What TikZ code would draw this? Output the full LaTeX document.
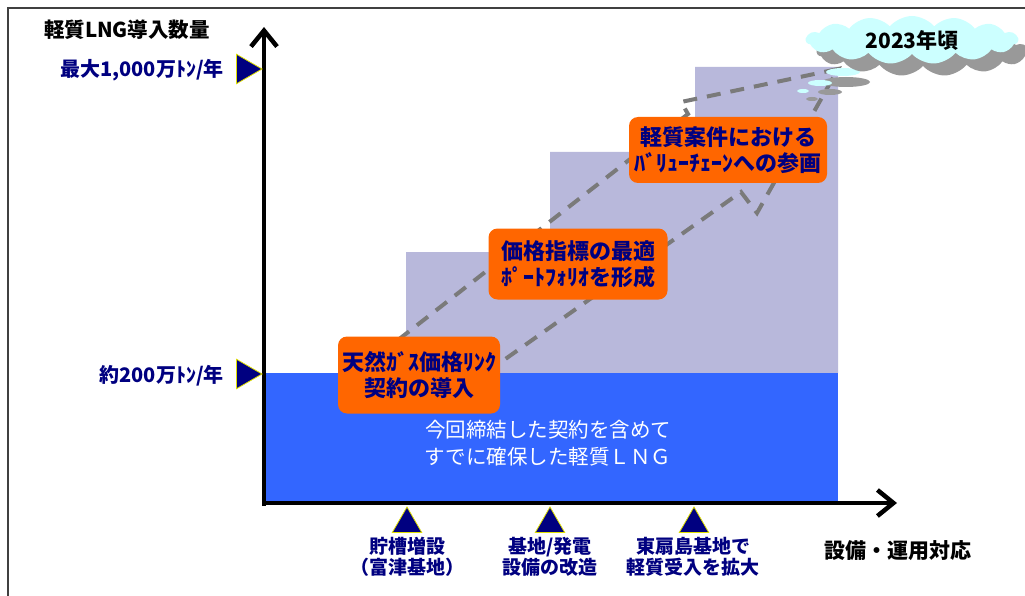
\documentclass[tikz,border=0pt]{standalone}
\usepackage{fontspec}
\setmainfont{Noto Sans CJK JP}
\usetikzlibrary{arrows.meta,shapes.geometric,shapes.symbols,shadows}
\definecolor{navytext}{HTML}{000080}
\definecolor{lavender}{HTML}{B8B8DB}
\definecolor{lngblue}{HTML}{3366FF}
\definecolor{boxorange}{HTML}{FF6600}
\definecolor{markeryellow}{HTML}{E0E000}
\definecolor{dashgray}{HTML}{7A7A7A}
\definecolor{cloudcyan}{HTML}{CCFFFF}
\definecolor{shadowgray}{HTML}{999999}
\begin{document}
\begin{tikzpicture}[x=1pt,y=-1pt,
	every node/.style={inner sep=0pt,text=navytext,align=center},
	orangebox/.style={fill=boxorange,rounded corners=9pt,font=\fontsize{22}{26}\selectfont\bfseries},
	marker/.style={regular polygon,regular polygon sides=3,fill=navytext,draw=markeryellow,line width=0.8pt,minimum size=34pt},
	axislabel/.style={font=\fontsize{20}{22}\selectfont\bfseries},
	baselabel/.style={font=\fontsize{19}{21}\selectfont\bfseries},
	axis/.style={line width=4.5pt,-{Straight Barb[length=16pt,width=26pt]}},
	dasharrow/.style={draw=dashgray,line width=4pt,dash pattern=on 14pt off 10pt}]
\useasboundingbox (0,0) rectangle (1025,596);
\draw[black!75,line width=1.2pt] (1025,8) -- (8,8) -- (8,596);
\fill[lavender] (406,373) -- (406,252) -- (550,252) -- (550,152) -- (695,152)
	-- (695,67) -- (838,67) -- (838,373) -- cycle;
\fill[lngblue] (264,373) rectangle (838,503);
\draw[dasharrow] (398,340) -- (688,114) -- (681,102) -- (838,69) -- (757,213)
	-- (741,192) -- (480,377) -- cycle;
\fill[shadowgray] (846,82) ellipse (24pt and 5pt) (830,92) ellipse (12pt and 3pt)
	(812,99) ellipse (6pt and 2pt);
\fill[cloudcyan] (843,72) ellipse (17pt and 4pt) (820,83) ellipse (12pt and 3pt)
	(803,91) ellipse (6pt and 2pt);
\node[cloud,cloud puffs=15,cloud puff arc=100,aspect=4,minimum width=212pt,minimum height=48pt,
	fill=cloudcyan,drop shadow={shadow xshift=11pt,shadow yshift=-12pt,fill=shadowgray,opacity=1},
	text=black,font=\fontsize{21}{24}\selectfont\bfseries] (era) at (912,40) {2023年頃};
\node[text=white,font=\fontsize{20.5}{27}\selectfont] (secured) at (548,443)
	{今回締結した契約を含めて\\すでに確保した軽質ＬＮＧ};
\node[orangebox,minimum width=162pt,minimum height=77pt] (link) at (419,375)
	{天然ｶﾞｽ価格ﾘﾝｸ\\契約の導入};
\node[orangebox,minimum width=179pt,minimum height=71pt] (portfolio) at (578,264)
	{価格指標の最適\\ﾎﾟｰﾄﾌｫﾘｵを形成};
\node[orangebox,minimum width=198pt,minimum height=66pt] (value) at (728,150)
	{軽質案件における\\ﾊﾞﾘｭｰﾁｪｰﾝへの参画};
\coordinate (ybot) at (264,506);
\coordinate (ytop) at (264,27);
\coordinate (xbot) at (262,503);
\coordinate (xend) at (897,503);
\draw[axis] (ybot) -- (ytop);
\draw[axis] (xbot) -- (xend);
\node[text=black,font=\fontsize{20.5}{22}\selectfont\bfseries] (ytitle) at (127,30) {軽質LNG導入数量};
\node[text=black,font=\fontsize{21}{22}\selectfont\bfseries] (xtitle) at (898,551) {設備・運用対応};
\node[marker,shape border rotate=-90] (mtop) at (245,69) {};
\node[marker,shape border rotate=-90] (mlow) at (245,374) {};
\node[axislabel,anchor=east] (maxlabel) at (224,70) {最大1,000万ﾄﾝ/年};
\node[axislabel,anchor=east] (lowlabel) at (224,376) {約200万ﾄﾝ/年};
\node[marker] (m1) at (407,524) {};
\node[marker] (m2) at (550,524) {};
\node[marker] (m3) at (694,524) {};
\node[baselabel] (tank) at (407,557) {貯槽増設\\（富津基地）};
\node[baselabel] (plant) at (550,557) {基地/発電\\設備の改造};
\node[baselabel] (ohgishima) at (693,557) {東扇島基地で\\軽質受入を拡大};
\end{tikzpicture}
\end{document}
